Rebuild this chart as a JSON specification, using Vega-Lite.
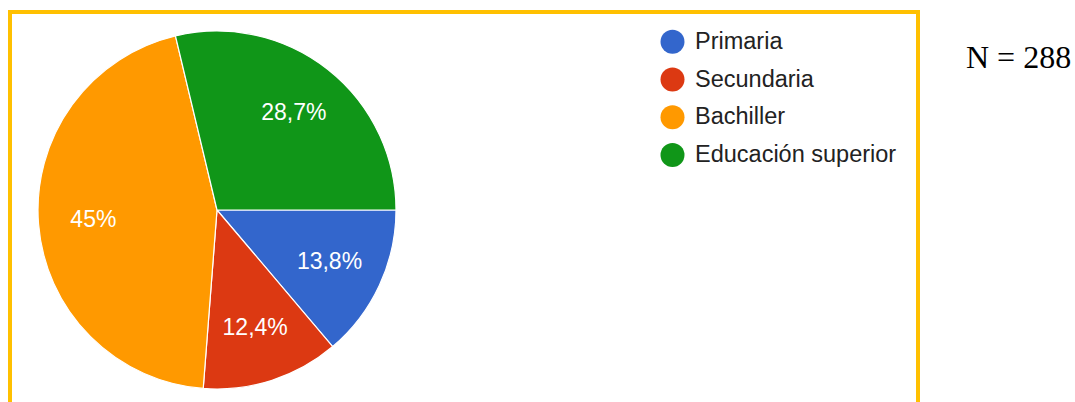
{
  "$schema": "https://vega.github.io/schema/vega-lite/v6.json",
  "width": 908,
  "height": 400,
  "autosize": {"type": "none"},
  "padding": {"left": 10, "top": 12, "right": 157, "bottom": 0},
  "background": "white",
  "config": {
    "view": {"stroke": null},
    "font": "Liberation Sans"
  },
  "title": {
    "text": "N = 288",
    "font": "Liberation Serif",
    "fontSize": 32,
    "fontWeight": "normal",
    "color": "#000000",
    "anchor": "start",
    "frame": "group",
    "orient": "top",
    "baseline": "alphabetic",
    "offset": 0,
    "dx": 956,
    "dy": 90
  },
  "data": {
    "values": [
      {"nivel": "Primaria", "porcentaje": 13.8, "etiqueta": "13,8%", "orden": 1},
      {"nivel": "Secundaria", "porcentaje": 12.4, "etiqueta": "12,4%", "orden": 2},
      {"nivel": "Bachiller", "porcentaje": 45.0, "etiqueta": "45%", "orden": 3},
      {"nivel": "Educación superior", "porcentaje": 28.7, "etiqueta": "28,7%", "orden": 4}
    ]
  },
  "layer": [
    {
      "data": {"values": [{"marco": "borde"}]},
      "mark": {"type": "rect", "fill": null, "fillOpacity": 0, "stroke": "#FFC000", "strokeWidth": 4},
      "encoding": {}
    },
    {
      "mark": {"type": "arc", "outerRadius": 179, "x": 207, "y": 198, "stroke": "white", "strokeWidth": 1.2},
      "encoding": {
        "theta": {"field": "porcentaje", "type": "quantitative", "stack": true, "scale": {"range": [1.5708, 7.854]}},
        "order": {"field": "orden", "type": "ordinal"},
        "color": {
          "field": "nivel",
          "type": "nominal",
          "sort": ["Primaria", "Secundaria", "Bachiller", "Educación superior"],
          "scale": {"domain": ["Primaria", "Secundaria", "Bachiller", "Educación superior"], "range": ["#3366CC", "#DC3912", "#FF9900", "#109618"]},
          "legend": {
            "title": null,
            "orient": "none",
            "legendX": 650.5,
            "legendY": 17.7,
            "padding": 0,
            "symbolType": "circle",
            "symbolSize": 576,
            "symbolStrokeWidth": 0,
            "rowPadding": 13.8,
            "labelOffset": 10.5,
            "labelFont": "Liberation Sans",
            "labelFontSize": 23.5,
            "labelColor": "#222222",
            "labelLimit": 400
          }
        }
      }
    },
    {
      "mark": {"type": "text", "radius": 124, "x": 207, "y": 198, "fill": "white", "fontSize": 23, "font": "Liberation Sans", "align": "center", "baseline": "middle"},
      "encoding": {
        "theta": {"field": "porcentaje", "type": "quantitative", "stack": true},
        "order": {"field": "orden", "type": "ordinal"},
        "text": {"field": "etiqueta", "type": "nominal"}
      }
    }
  ]
}
